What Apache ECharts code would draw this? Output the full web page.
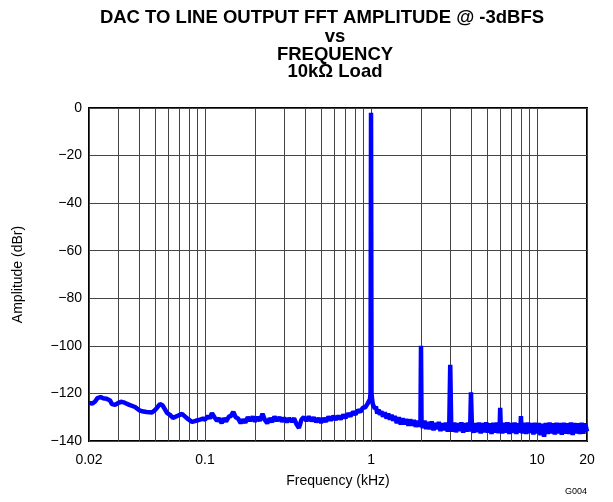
<!DOCTYPE html>
<html>
<head>
<meta charset="utf-8">
<script src="https://cdn.jsdelivr.net/npm/echarts@6/dist/echarts.min.js"></script>
<style>
html,body{margin:0;padding:0;background:#fff;}
#chart{width:613px;height:502px;}
</style>
</head>
<body>
<div id="chart"></div>
<script>
// Title lines
var titleLines = ['DAC TO LINE OUTPUT FFT AMPLITUDE @ -3dBFS', 'vs', 'FREQUENCY', '10k\u03A9 Load'];
// Axis settings
var xTickValues = [0.02, 0.1, 1, 10, 20];
var xMinorGrid = [0.03,0.04,0.05,0.06,0.07,0.08,0.09,0.2,0.3,0.4,0.5,0.6,0.7,0.8,0.9,2,3,4,5,6,7,8,9];
var yTicks = [0, -20, -40, -60, -80, -100, -120, -140];

var traceLow = [
  [0.020,-124],[0.0205,-123.8],[0.021,-124.2],[0.0217,-123.5],[0.0225,-122],[0.0235,-121.5],[0.0243,-122],
  [0.0255,-122.2],[0.0268,-123],[0.0275,-124.5],[0.0287,-124.8],[0.030,-124],[0.0315,-123.5],[0.033,-124],
  [0.035,-124.8],[0.0379,-125.7],[0.040,-127],[0.0417,-127.5],[0.0445,-127.8],[0.0479,-128],[0.050,-127],
  [0.0514,-126.5],[0.0535,-124.5],[0.0555,-125],[0.059,-128.2],[0.0615,-129],[0.0641,-130.3],[0.068,-129.5],
  [0.0727,-128.6],[0.078,-130.5],[0.0835,-132],[0.088,-131.5],[0.0933,-131],[0.097,-130.6]
];
var traceMid = [
  [0.100,-131],[0.104,-129.5],[0.107,-130.5],[0.110,-128.3],[0.114,-130],[0.118,-131.5],[0.122,-130.5],
  [0.126,-132.5],[0.130,-130.5],[0.134,-131.8],[0.139,-129.8],[0.143,-129.5],[0.148,-127.8],[0.153,-130],
  [0.158,-130.5],[0.164,-132.5],[0.169,-131],[0.175,-132.3],[0.181,-130],[0.187,-131.5],[0.194,-129.8],
  [0.200,-131.8],[0.207,-130],[0.214,-131.5],[0.222,-128.6],[0.229,-131],[0.237,-132.5],[0.245,-130.5],
  [0.254,-132],[0.262,-129.8],[0.271,-131.5],[0.281,-130],[0.290,-131.8],[0.300,-130.3],[0.311,-132],
  [0.321,-130.5],[0.333,-131.8],[0.344,-130.5],[0.356,-133],[0.368,-134.5],[0.381,-131],[0.394,-130],
  [0.408,-131.5],[0.422,-129.8],[0.437,-131.5],[0.452,-130.2],[0.467,-132],[0.484,-130.5],[0.500,-132.3],
  [0.518,-130.5],[0.536,-131.8],[0.554,-129.8],[0.573,-131.3],[0.593,-129.5],[0.614,-131],[0.635,-129.5],
  [0.657,-130.8],[0.680,-129],[0.703,-130.2],[0.728,-128.5],[0.753,-129.5],[0.779,-127.8],[0.806,-128.8],
  [0.834,-127],[0.863,-127.8],[0.893,-126],[0.924,-125.8],[0.950,-124.5],[0.970,-123.8],[0.985,-122.5],
  [0.993,-120]
];
var traceFundamental = [[1.0,-2]];
var traceNear = [
  [1.007,-120],[1.015,-122.5],[1.025,-124.5],[1.04,-123.8],[1.055,-126.5],[1.07,-125.5],[1.09,-128.5],
  [1.11,-126.8],[1.13,-129],[1.155,-127.5],[1.18,-129.8],[1.21,-128],[1.24,-130.5],[1.27,-128.5],[1.30,-131],
  [1.33,-129],[1.36,-131.5],[1.39,-129.5],[1.43,-132.5],[1.47,-130],[1.51,-133],[1.55,-130.5],[1.59,-133],
  [1.63,-130.8],[1.68,-133.5],[1.72,-131],[1.77,-133.5],[1.81,-131.2],[1.86,-134],[1.91,-131.5],[1.95,-134],
  [1.985,-132]
];
var traceHigh = [
  [2.0,-100],[2.015,-132],[2.05,-134.5],[2.1,-131.5],[2.15,-135],[2.2,-132],[2.26,-135],[2.32,-131.8],
  [2.38,-135.5],[2.44,-132.5],[2.5,-135],[2.56,-132],[2.62,-135.8],[2.69,-132.5],[2.76,-135.5],[2.83,-132.3],
  [2.9,-136],[2.96,-133],[3.0,-108],[3.04,-133],[3.1,-136],[3.17,-132.3],[3.25,-136.3],[3.33,-132.5],
  [3.41,-135.8],[3.5,-132.2],[3.59,-136.5],[3.68,-132.5],[3.77,-136],[3.86,-132.3],[3.95,-136],[4.0,-119.5],
  [4.05,-133],[4.15,-136.5],[4.25,-132.5],[4.36,-136.2],[4.47,-132.3],[4.58,-136.8],[4.7,-132.5],[4.82,-136.3],
  [4.94,-132.2],[5.06,-136.5],[5.19,-132.6],[5.32,-137],[5.45,-132.4],[5.59,-136.5],[5.73,-132.3],[5.87,-136.7],
  [5.96,-133],[6.0,-126],[6.04,-133],[6.17,-136.8],[6.32,-132.4],[6.48,-136.5],[6.64,-132.2],[6.81,-137],
  [6.98,-132.5],[7.15,-136.6],[7.33,-132.3],[7.51,-137],[7.7,-132.6],[7.85,-136.5],[7.96,-133],[8.0,-129.5],
  [8.04,-133],[8.2,-136.8],[8.4,-132.4],[8.61,-137],[8.83,-132.3],[9.05,-136.6],[9.28,-132.5],[9.51,-137.2],
  [9.75,-132.4],[10.0,-136.8],[10.25,-132.5],[10.5,-137.5],[10.76,-132.8],[11.03,-138.2],[11.3,-132.5],
  [11.6,-137],[11.9,-132.3],[12.2,-136.8],[12.5,-132.6],[12.8,-137.2],[13.1,-132.4],[13.45,-136.8],
  [13.8,-132.5],[14.1,-137.3],[14.5,-132.4],[14.85,-136.9],[15.2,-132.6],[15.6,-137],[16.0,-132.3],
  [16.4,-137.4],[16.8,-132.5],[17.2,-136.8],[17.65,-132.6],[18.1,-137],[18.55,-132.4],[19.0,-136.9],
  [19.5,-132.6],[20,-136]
];

var traceData = traceLow.concat(traceMid, traceFundamental, traceNear, traceHigh);

var FONT = '"Liberation Sans", Arial, sans-serif';
var chart = echarts.init(document.getElementById('chart'), null, {renderer: 'canvas'});

var graphics = [];
var titleY = [8, 27, 45, 62];
titleLines.forEach(function (t, i) {
  graphics.push({
    type: 'text', x: i === 0 ? 322 : 335, y: titleY[i], silent: true,
    style: {text: t, fill: '#000', font: 'bold 18.5px ' + FONT, textAlign: 'center', textVerticalAlign: 'top'}
  });
});
graphics.push({
  type: 'text', x: 587, y: 487, silent: true,
  style: {text: 'G004', fill: '#000', font: '9px ' + FONT, textAlign: 'right', textVerticalAlign: 'top'}
});

var option = {
  animation: false,
  backgroundColor: '#fff',
  graphic: graphics,
  grid: {left: 89, right: 26, top: 108, bottom: 61, show: true, borderColor: '#000', borderWidth: 2, backgroundColor: 'transparent'},
  xAxis: {
    type: 'log', logBase: 10, min: 0.02, max: 20,
    name: 'Frequency (kHz)', nameLocation: 'middle', nameGap: 33,
    nameTextStyle: {color: '#000', fontSize: 14, fontFamily: FONT},
    axisLine: {show: false}, axisTick: {show: false},
    axisLabel: {
      color: '#000', fontSize: 14, fontFamily: FONT, margin: 12,
      showMinLabel: true, showMaxLabel: true,
      formatter: function (v) {
        var r = +(+v).toPrecision(3);
        for (var i = 0; i < xTickValues.length; i++) {
          if (Math.abs(xTickValues[i] - r) / xTickValues[i] < 1e-6) return String(xTickValues[i]);
        }
        return '';
      }
    },
    splitLine: {show: true, lineStyle: {color: '#444', width: 1}}
  },
  yAxis: {
    type: 'value', min: -140, max: 0, interval: 20,
    name: 'Amplitude (dBr)', nameLocation: 'middle', nameGap: 64,
    nameTextStyle: {color: '#000', fontSize: 14, fontFamily: FONT},
    axisLine: {show: false}, axisTick: {show: false},
    axisLabel: {
      color: '#000', fontSize: 14, fontFamily: FONT, margin: 7,
      formatter: function (v) { return String(v).replace('-', '\u2212'); }
    },
    splitLine: {show: true, lineStyle: {color: '#444', width: 1}}
  },
  series: [
    {
      type: 'line', data: [], z: 1, silent: true,
      markLine: {
        silent: true, symbol: ['none', 'none'], animation: false,
        label: {show: false},
        lineStyle: {color: '#444', width: 1, type: 'solid'},
        data: xMinorGrid.map(function (v) { return {xAxis: v}; })
      }
    },
    {
      type: 'line', data: traceData, z: 5, showSymbol: false, symbol: 'none',
      lineStyle: {color: '#0000ff', width: 4.5, join: 'bevel'},
      clip: true
    }
  ]
};
chart.setOption(option);
</script>
</body>
</html>
